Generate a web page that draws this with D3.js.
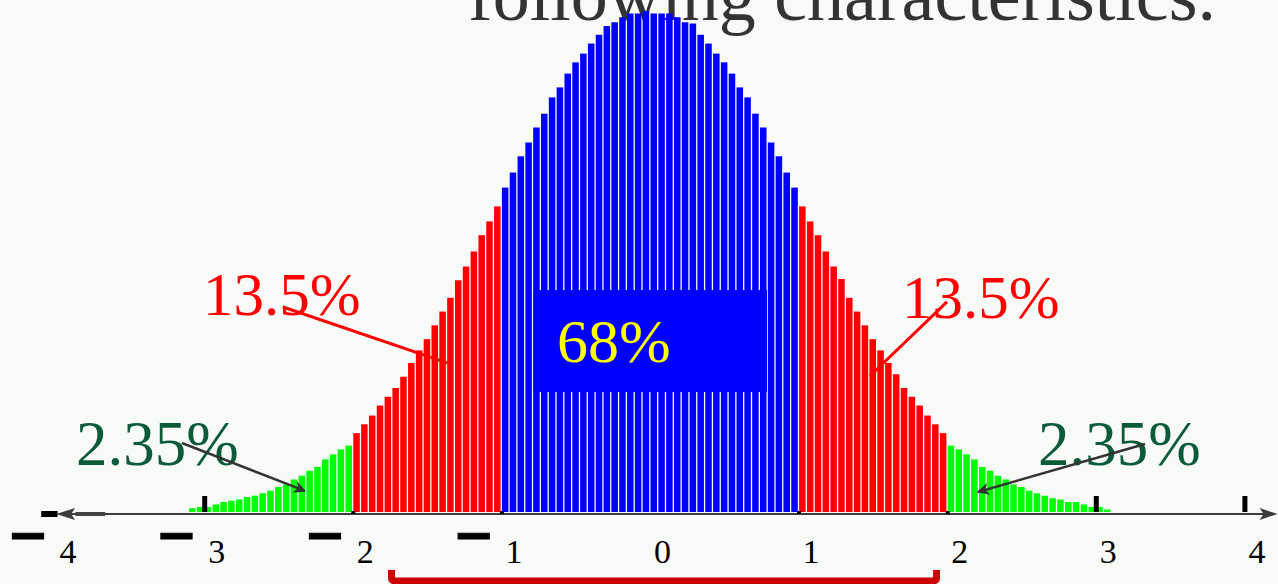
<!DOCTYPE html>
<html>
<head>
<meta charset="utf-8">
<script src="https://cdn.jsdelivr.net/npm/d3@7/dist/d3.min.js"></script>
<style>
  html, body { margin: 0; padding: 0; background: #f8faf8; }
  svg { display: block; }
</style>
</head>
<body>
<svg id="chart" width="1278" height="584"></svg>
<script>
// Histogram of a standard normal sample: 118 bins of width 1/19, from -59/19 to 59/19
const binWidth = 1 / 19;
const firstEdge = -59 / 19;
const density = [
  // -3.1 .. -2 (green)
  0.003, 0.004, 0.004, 0.006, 0.008, 0.009, 0.010, 0.012, 0.013, 0.015, 0.017,
  0.020, 0.022, 0.026, 0.029, 0.033, 0.036, 0.042, 0.046, 0.050, 0.053,
  // -2 .. -1 (red)
  0.063, 0.070, 0.077, 0.085, 0.092, 0.099, 0.108, 0.119, 0.129, 0.138,
  0.149, 0.160, 0.171, 0.185, 0.196, 0.208, 0.221, 0.232, 0.244,
  // -1 .. 1 (blue)
  0.259, 0.271, 0.284, 0.295, 0.307, 0.318, 0.331, 0.339, 0.350, 0.359,
  0.366, 0.374, 0.381, 0.388, 0.391, 0.395, 0.398, 0.398, 0.400, 0.398,
  0.398, 0.398, 0.395, 0.391, 0.390, 0.381, 0.374, 0.366, 0.359, 0.350,
  0.339, 0.331, 0.318, 0.307, 0.295, 0.284, 0.271, 0.259,
  // 1 .. 2 (red)
  0.244, 0.232, 0.221, 0.208, 0.196, 0.186, 0.171, 0.160, 0.149, 0.138,
  0.129, 0.119, 0.110, 0.099, 0.092, 0.085, 0.077, 0.070, 0.063,
  // 2 .. 3.1 (green)
  0.053, 0.050, 0.046, 0.042, 0.036, 0.033, 0.029, 0.026, 0.022, 0.020, 0.017,
  0.015, 0.013, 0.011, 0.010, 0.008, 0.008, 0.006, 0.004, 0.004, 0.002
];

// Colour bands by distance from the mean
const bandLimits = [1, 2];
const bandColors = ["#0000ff", "#ff0000", "#00ff00"];

// Axis
const tickValues = [-4, -3, -2, -1, 0, 1, 2, 3, 4];
const tickLabels = ["4", "3", "2", "1", "0", "1", "2", "3", "4"];
const tallTicks = [-3, 3, 4];
const smallTicks = [-2, -1, 1, 2];
const axisExtent = [-4, 4.22];

// Annotations (x in standard deviations, y in density)
const areaLabels = [
  { text: "13.5%", x: -3.011, y: 0.1573, color: "#ff0000", size: 61 },
  { text: "13.5%", x: 1.692, y: 0.1545, color: "#ff0000", size: 61 },
  { text: "2.35%", x: -3.866, y: 0.0375, color: "#0b5a38", size: 63 },
  { text: "2.35%", x: 2.608, y: 0.0375, color: "#0b5a38", size: 63 }
];
const leaderLines = [
  { x1: -2.473, y1: 0.1637, x2: -1.369, y2: 0.119 },
  { x1: 1.995, y1: 0.1677, x2: 1.477, y2: 0.1086 }
];
const arrows = [
  { x1: -3.153, y1: 0.0551, x2: -2.325, y2: 0.0168 },
  { x1: 3.328, y1: 0.0543, x2: 2.204, y2: 0.0160 }
];
const centerLabel = { text: "68%", x: -0.629, y: 0.1198 };
const centerBox = { x0: -0.787, x1: 0.784, y0: 0.0958, y1: 0.1772 };
const bracketRange = [-1.743, 1.925];
const titleText = "following characteristics.";

const svg = d3.select("#chart");

const x = d3.scaleLinear().domain([-1, 1]).range([501.9, 799.1]);
const y = d3.scaleLinear().domain([0, 0.4]).range([512, 11]);

// Title (partly above the frame)
svg.append("text")
  .attr("x", 468).attr("y", 20)
  .attr("font-family", "'Liberation Serif', 'Times New Roman', serif")
  .attr("font-size", 74)
  .attr("fill", "#333333")
  .text(titleText);

// Bars
const bins = density.map((v, i) => {
  const x0 = firstEdge + i * binWidth;
  const mid = x0 + binWidth / 2;
  const a = Math.abs(mid);
  const band = a < bandLimits[0] ? 0 : a < bandLimits[1] ? 1 : 2;
  return { x0, x1: x0 + binWidth, v, color: bandColors[band] };
});

svg.append("g").selectAll("rect")
  .data(bins)
  .join("rect")
  .attr("x", d => x(d.x0))
  .attr("width", d => x(d.x1) - x(d.x0) - 1.3)
  .attr("y", d => y(d.v))
  .attr("height", d => y(0) - y(d.v))
  .attr("fill", d => d.color);

// Axis line with arrow heads
const axisY = y(0) + 2;
const ax = svg.append("g");
ax.append("rect")
  .attr("x", x(-4.1)).attr("y", axisY - 3)
  .attr("width", x(-3.99) - x(-4.1)).attr("height", 6)
  .attr("fill", "#000");
ax.append("line")
  .attr("x1", x(axisExtent[0]) + 10).attr("x2", x(axisExtent[1]) - 10)
  .attr("y1", axisY).attr("y2", axisY)
  .attr("stroke", "#3c3c3c").attr("stroke-width", 2);
ax.append("line")
  .attr("x1", x(-3.87)).attr("x2", x(-3.67))
  .attr("y1", axisY).attr("y2", axisY)
  .attr("stroke", "#444").attr("stroke-width", 4);
const headL = x(axisExtent[0]);
ax.append("path")
  .attr("d", `M${headL},${axisY} L${headL + 19},${axisY - 6} L${headL + 15},${axisY} L${headL + 19},${axisY + 6} Z`)
  .attr("fill", "#3c3c3c");
const headR = x(axisExtent[1]);
ax.append("path")
  .attr("d", `M${headR},${axisY} L${headR - 18},${axisY - 6} L${headR - 14},${axisY} L${headR - 18},${axisY + 6} Z`)
  .attr("fill", "#3c3c3c");

// Tick marks
ax.selectAll("rect.tall")
  .data(tallTicks)
  .join("rect")
  .attr("class", "tall")
  .attr("x", d => x(d) - 2.5).attr("y", y(0) - 16)
  .attr("width", 5).attr("height", 16)
  .attr("fill", "#000");
ax.selectAll("rect.small")
  .data(smallTicks)
  .join("rect")
  .attr("class", "small")
  .attr("x", d => x(d) - 2).attr("y", y(0) - 1)
  .attr("width", 4).attr("height", 3)
  .attr("fill", "#000");

// Tick labels: digit plus a heavy minus bar for negatives
const labelG = svg.append("g");
labelG.selectAll("text.digit")
  .data(tickValues)
  .join("text")
  .attr("class", "digit")
  .attr("x", d => x(d) + 12).attr("y", 563)
  .attr("text-anchor", "middle")
  .attr("font-family", "'Liberation Serif', 'Times New Roman', serif")
  .attr("font-size", 34)
  .attr("fill", "#000")
  .text((d, i) => tickLabels[i]);
labelG.selectAll("text.minus")
  .data(tickValues.filter(d => d < 0))
  .join("text")
  .attr("class", "minus")
  .attr("x", d => x(d) + 12 - 40).attr("y", 552)
  .attr("text-anchor", "middle")
  .attr("font-family", "'DejaVu Sans', sans-serif")
  .attr("font-weight", "bold")
  .attr("font-size", 50)
  .attr("fill", "#000")
  .attr("stroke", "#000").attr("stroke-width", 1)
  .text("\u2212");

// Central box and label
svg.append("rect")
  .attr("x", x(centerBox.x0)).attr("y", y(centerBox.y1))
  .attr("width", x(centerBox.x1) - x(centerBox.x0))
  .attr("height", y(centerBox.y0) - y(centerBox.y1))
  .attr("fill", "#0000ff");
svg.append("text")
  .attr("x", x(centerLabel.x)).attr("y", y(centerLabel.y))
  .attr("font-family", "'Liberation Serif', 'Times New Roman', serif")
  .attr("font-size", 62)
  .attr("fill", "#ffff00")
  .text(centerLabel.text);

// Area labels
svg.append("g").selectAll("text")
  .data(areaLabels)
  .join("text")
  .attr("x", d => x(d.x)).attr("y", d => y(d.y))
  .attr("font-family", "'Liberation Serif', 'Times New Roman', serif")
  .attr("font-size", d => d.size)
  .attr("fill", d => d.color)
  .text(d => d.text);

// Leader lines for 13.5%
svg.append("g").selectAll("line")
  .data(leaderLines)
  .join("line")
  .attr("x1", d => x(d.x1)).attr("y1", d => y(d.y1))
  .attr("x2", d => x(d.x2)).attr("y2", d => y(d.y2))
  .attr("stroke", "#ff0000").attr("stroke-width", 3);

// Arrows for 2.35%
svg.append("defs").append("marker")
  .attr("id", "arrowhead")
  .attr("viewBox", "0 0 10 10")
  .attr("refX", 9).attr("refY", 5)
  .attr("markerWidth", 6).attr("markerHeight", 5)
  .attr("markerUnits", "strokeWidth")
  .attr("orient", "auto")
  .append("path")
  .attr("d", "M0,0 L10,5 L0,10 L3,5 Z")
  .attr("fill", "#333");
svg.append("g").selectAll("line")
  .data(arrows)
  .join("line")
  .attr("x1", d => x(d.x1)).attr("y1", d => y(d.y1))
  .attr("x2", d => x(d.x2)).attr("y2", d => y(d.y2))
  .attr("stroke", "#333").attr("stroke-width", 2.5)
  .attr("marker-end", "url(#arrowhead)");

// Bracket under the axis
const bx0 = x(bracketRange[0]), bx1 = x(bracketRange[1]);
svg.append("path")
  .attr("d", `M${bx0},570 V577 Q${bx0},581 ${bx0 + 4},581 H${bx1 - 4} Q${bx1},581 ${bx1},577 V570`)
  .attr("fill", "none")
  .attr("stroke", "#cc0000")
  .attr("stroke-width", 7);
</script>
</body>
</html>
